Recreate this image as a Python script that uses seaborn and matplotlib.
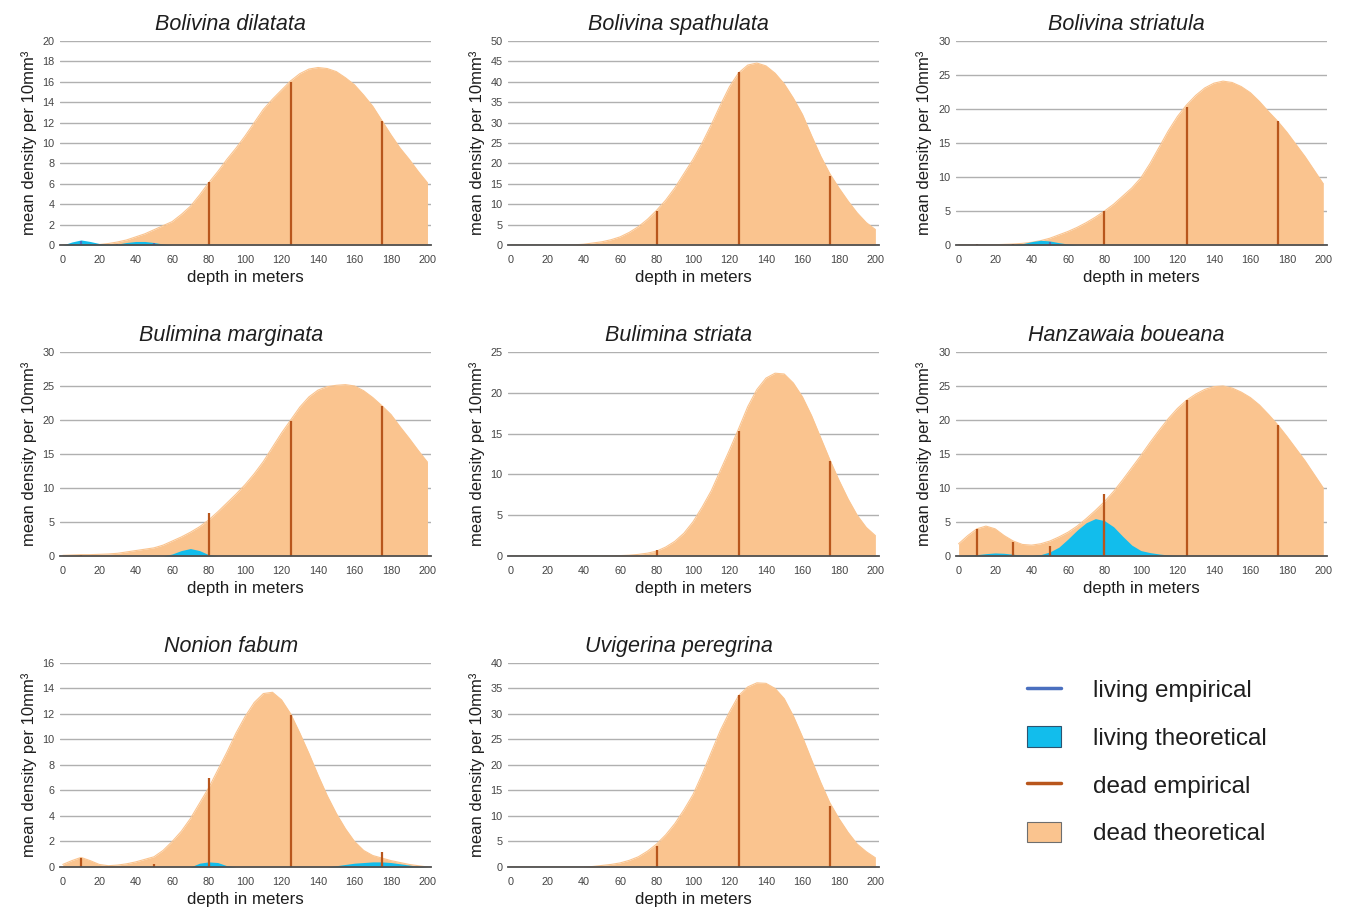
import numpy as np
import matplotlib
matplotlib.use("Agg")
import matplotlib.pyplot as plt
from matplotlib.lines import Line2D
from matplotlib.patches import Patch
import seaborn as sns

# depth grid for theoretical curves (m) and sample depths for empirical data
depth = list(range(0, 201, 5))
sample_depth = [10, 30, 50, 80, 125, 175]

# Bolivina dilatata
dilatata_dead = [0, 0, 0, 0, 0.05, 0.15, 0.3, 0.5, 0.8, 1.1, 1.5, 1.9, 2.3, 3.0, 3.8, 4.9, 6.1,
                 7.2, 8.4, 9.5, 10.7, 12.0, 13.3, 14.3, 15.2, 16.1, 16.8, 17.25, 17.4, 17.3, 17.0,
                 16.4, 15.7, 14.7, 13.6, 12.2, 10.8, 9.5, 8.4, 7.2, 6.1]
dilatata_living_x = [0, 5, 10, 15, 20, 25, 30, 35, 40, 45, 50, 55, 60]
dilatata_living = [0, 0.3, 0.5, 0.35, 0.15, 0.05, 0.1, 0.25, 0.35, 0.35, 0.25, 0.1, 0]
dilatata_dead_emp = [0, 0, 0, 6.2, 16.0, 12.2]
dilatata_living_emp = [0.4, 0.1, 0.2, 0, 0, 0]

# Bolivina spathulata
spathulata_dead = [0, 0, 0, 0, 0, 0, 0, 0.05, 0.2, 0.5, 0.8, 1.3, 2.0, 3.1, 4.5, 6.3, 8.5,
                   11.0, 14.0, 17.5, 21.0, 25.0, 29.5, 34.3, 38.8, 42.2, 44.1, 44.6, 43.9, 42.1,
                   39.5, 36.0, 32.0, 26.8, 21.8, 17.5, 14.0, 10.8, 7.9, 5.5, 3.8]
spathulata_living_x = [0, 200]
spathulata_living = [0, 0]
spathulata_dead_emp = [0, 0, 0, 8.3, 42.3, 16.8]
spathulata_living_emp = [0, 0, 0, 0, 0, 0]

# Bolivina striatula
striatula_dead = [0.05, 0.05, 0.05, 0.05, 0.05, 0.1, 0.15, 0.25, 0.4, 0.65, 1.0, 1.5, 2.0, 2.6,
                  3.3, 4.1, 5.0, 6.0, 7.2, 8.4, 9.9, 12.0, 14.4, 16.8, 18.9, 20.6, 22.0, 23.1,
                  23.8, 24.1, 23.9, 23.3, 22.4, 21.1, 19.6, 18.2, 16.6, 14.8, 13.0, 11.0, 9.0]
striatula_living_x = [25, 30, 35, 40, 45, 50, 55, 60, 65, 70]
striatula_living = [0, 0.05, 0.2, 0.5, 0.7, 0.6, 0.35, 0.15, 0.03, 0]
striatula_dead_emp = [0.2, 0.1, 0.1, 5.0, 20.3, 18.2]
striatula_living_emp = [0, 0.2, 0.5, 0, 0, 0]

# Bulimina marginata
marginata_dead = [0.1, 0.15, 0.2, 0.2, 0.25, 0.3, 0.4, 0.6, 0.8, 1.0, 1.2, 1.6, 2.2, 2.8, 3.5,
                  4.3, 5.3, 6.5, 7.8, 9.1, 10.5, 12.1, 13.9, 16.0, 18.1, 20.0, 21.9, 23.4, 24.4,
                  24.9, 25.1, 25.2, 25.0, 24.3, 23.3, 22.1, 20.8, 19.0, 17.3, 15.5, 13.8]
marginata_living_x = [55, 60, 65, 70, 75, 80, 85]
marginata_living = [0, 0.3, 0.8, 1.1, 0.8, 0.2, 0]
marginata_dead_emp = [0.2, 0, 0, 6.3, 19.8, 22.1]
marginata_living_emp = [0, 0, 0, 0, 0, 0]

# Bulimina striata
striata_dead = [0, 0, 0, 0, 0, 0, 0, 0, 0, 0, 0, 0.02, 0.05, 0.1, 0.2, 0.35, 0.6, 1.1, 1.8, 2.8,
                4.2, 6.0, 8.0, 10.5, 13.0, 15.6, 18.3, 20.4, 21.8, 22.4, 22.3, 21.2, 19.5, 17.2,
                14.5, 11.8, 9.3, 7.0, 5.0, 3.5, 2.5]
striata_living_x = [0, 200]
striata_living = [0, 0]
striata_dead_emp = [0, 0, 0, 0.7, 15.3, 11.7]
striata_living_emp = [0, 0, 0, 0, 0, 0]

# Hanzawaia boueana
boueana_dead = [1.8, 3.0, 4.0, 4.4, 4.0, 3.0, 2.2, 1.7, 1.6, 1.8, 2.2, 2.8, 3.5, 4.4, 5.5, 6.7,
                8.0, 9.5, 11.2, 13.0, 14.8, 16.7, 18.5, 20.2, 21.7, 22.9, 23.8, 24.5, 24.9, 25.0,
                24.7, 24.1, 23.3, 22.2, 20.8, 19.3, 17.6, 15.8, 14.0, 12.0, 10.0]
boueana_living_x = list(range(0, 126, 5))
boueana_living = [0.05, 0.1, 0.2, 0.35, 0.45, 0.4, 0.25, 0.15, 0.1, 0.2, 0.6, 1.3, 2.5, 3.8,
                  4.9, 5.5, 5.2, 4.3, 2.9, 1.6, 0.8, 0.5, 0.3, 0.15, 0.05, 0]
boueana_dead_emp = [4.0, 2.0, 1.5, 9.1, 22.9, 19.3]
boueana_living_emp = [0.2, 0.3, 0.4, 5.2, 0, 0]

# Nonion fabum
fabum_dead = [0.2, 0.5, 0.75, 0.5, 0.2, 0.1, 0.15, 0.25, 0.4, 0.6, 0.8, 1.3, 2.0, 2.8, 3.8, 5.0,
              6.2, 7.6, 9.0, 10.5, 11.8, 12.9, 13.6, 13.7, 13.1, 12.0, 10.5, 8.9, 7.2, 5.6, 4.2,
              3.0, 2.0, 1.3, 0.9, 0.7, 0.5, 0.35, 0.2, 0.1, 0]
fabum_living_x = list(range(70, 201, 5))
fabum_living = [0, 0.3, 0.4, 0.35, 0.1, 0, 0, 0, 0, 0, 0, 0, 0, 0, 0, 0, 0.1, 0.2, 0.3, 0.35,
                0.4, 0.4, 0.35, 0.25, 0.15, 0.05, 0]
fabum_dead_emp = [0.7, 0, 0.2, 7.0, 11.9, 1.2]
fabum_living_emp = [0, 0, 0, 0.2, 0, 0.3]

# Uvigerina peregrina
peregrina_dead = [0, 0, 0, 0, 0, 0, 0, 0, 0, 0.1, 0.3, 0.5, 0.8, 1.3, 2.0, 3.1, 4.5, 6.3, 8.5,
                  11.2, 14.2, 18.2, 22.5, 26.8, 30.4, 33.6, 35.3, 36.1, 36.0, 35.0, 33.0, 29.6,
                  25.5, 21.0, 16.6, 12.6, 9.5, 6.8, 4.5, 3.0, 1.8]
peregrina_living_x = [0, 200]
peregrina_living = [0, 0]
peregrina_dead_emp = [0, 0, 0, 4.2, 33.8, 12.0]
peregrina_living_emp = [0, 0, 0, 0, 0, 0]

titles = ["Bolivina dilatata", "Bolivina spathulata", "Bolivina striatula",
          "Bulimina marginata", "Bulimina striata", "Hanzawaia boueana",
          "Nonion fabum", "Uvigerina peregrina"]
y_max = [20, 50, 30, 30, 25, 30, 16, 40]
y_step = [2, 5, 5, 5, 5, 5, 2, 5]

panels = [
    (dilatata_dead, dilatata_living_x, dilatata_living, dilatata_dead_emp, dilatata_living_emp),
    (spathulata_dead, spathulata_living_x, spathulata_living, spathulata_dead_emp, spathulata_living_emp),
    (striatula_dead, striatula_living_x, striatula_living, striatula_dead_emp, striatula_living_emp),
    (marginata_dead, marginata_living_x, marginata_living, marginata_dead_emp, marginata_living_emp),
    (striata_dead, striata_living_x, striata_living, striata_dead_emp, striata_living_emp),
    (boueana_dead, boueana_living_x, boueana_living, boueana_dead_emp, boueana_living_emp),
    (fabum_dead, fabum_living_x, fabum_living, fabum_dead_emp, fabum_living_emp),
    (peregrina_dead, peregrina_living_x, peregrina_living, peregrina_dead_emp, peregrina_living_emp),
]

DEAD_FILL = "#fac48f"
LIVING_FILL = "#12bdec"
DEAD_LINE = "#b8561c"
LIVING_LINE = "#4a6fbf"

sns.set_theme(style="whitegrid")
plt.rcParams["font.family"] = ["Liberation Sans", "DejaVu Sans"]

fig, axes = plt.subplots(3, 3, figsize=(13.55, 9.11), dpi=100)
fig.subplots_adjust(left=0.0443, right=0.9793, bottom=0.0483, top=0.955,
                    wspace=0.207, hspace=0.524)

for i, ax in enumerate(axes.flat[:8]):
    dead, lx, living, dead_emp, living_emp = panels[i]
    ax.fill_between(depth, dead, color=DEAD_FILL, linewidth=0, zorder=2)
    sns.lineplot(x=depth, y=dead, ax=ax, color=DEAD_FILL, linewidth=0.8, zorder=2)
    ax.fill_between(lx, living, color=LIVING_FILL, linewidth=0, zorder=3)
    ax.vlines(sample_depth, 0, living_emp, color=LIVING_LINE, linewidth=1.6, zorder=4)
    ax.vlines(sample_depth, 0, dead_emp, color=DEAD_LINE, linewidth=1.6, zorder=5)

    ax.set_xlim(-1.5, 202)
    ax.set_ylim(0, y_max[i])
    ax.set_xticks(range(0, 201, 20))
    ax.set_yticks(np.arange(0, y_max[i] + 0.1, y_step[i]))
    ax.tick_params(axis="both", labelsize=7.8, colors="#444444", length=0, pad=4)
    ax.tick_params(axis="x", pad=7)
    ax.grid(axis="x", visible=False)
    ax.grid(axis="y", color="#b0b0b0", linewidth=1.0)
    ax.set_axisbelow(True)
    sns.despine(ax=ax, left=True, top=True, right=True)
    ax.spines["bottom"].set_color("#505050")
    ax.spines["bottom"].set_linewidth(1.3)
    ax.spines["bottom"].set_zorder(6)
    ax.set_title(titles[i], fontsize=15.5, style="italic", color="#1e1e1e", pad=8, x=0.46)
    ax.set_xlabel("depth in meters", fontsize=12.2, color="#1e1e1e", labelpad=4)
    ax.set_ylabel("mean density per 10mm³", fontsize=12, color="#1e1e1e", labelpad=4)

axes.flat[8].axis("off")

handles = [
    Line2D([0], [0], color=LIVING_LINE, linewidth=2.5),
    Patch(facecolor=LIVING_FILL, edgecolor="#2c5470", linewidth=0.8),
    Line2D([0], [0], color=DEAD_LINE, linewidth=2.5),
    Patch(facecolor=DEAD_FILL, edgecolor="#6e6e6e", linewidth=0.8),
]
labels = ["living empirical", "living theoretical", "dead empirical", "dead theoretical"]
fig.legend(handles, labels, loc="center left", bbox_to_anchor=(0.7415, 0.1636),
           frameon=False, fontsize=17.5, handlelength=1.4, handleheight=0.9,
           handletextpad=1.35, labelspacing=1.0, labelcolor="#1e1e1e")

fig.savefig("out.png", dpi=100)
